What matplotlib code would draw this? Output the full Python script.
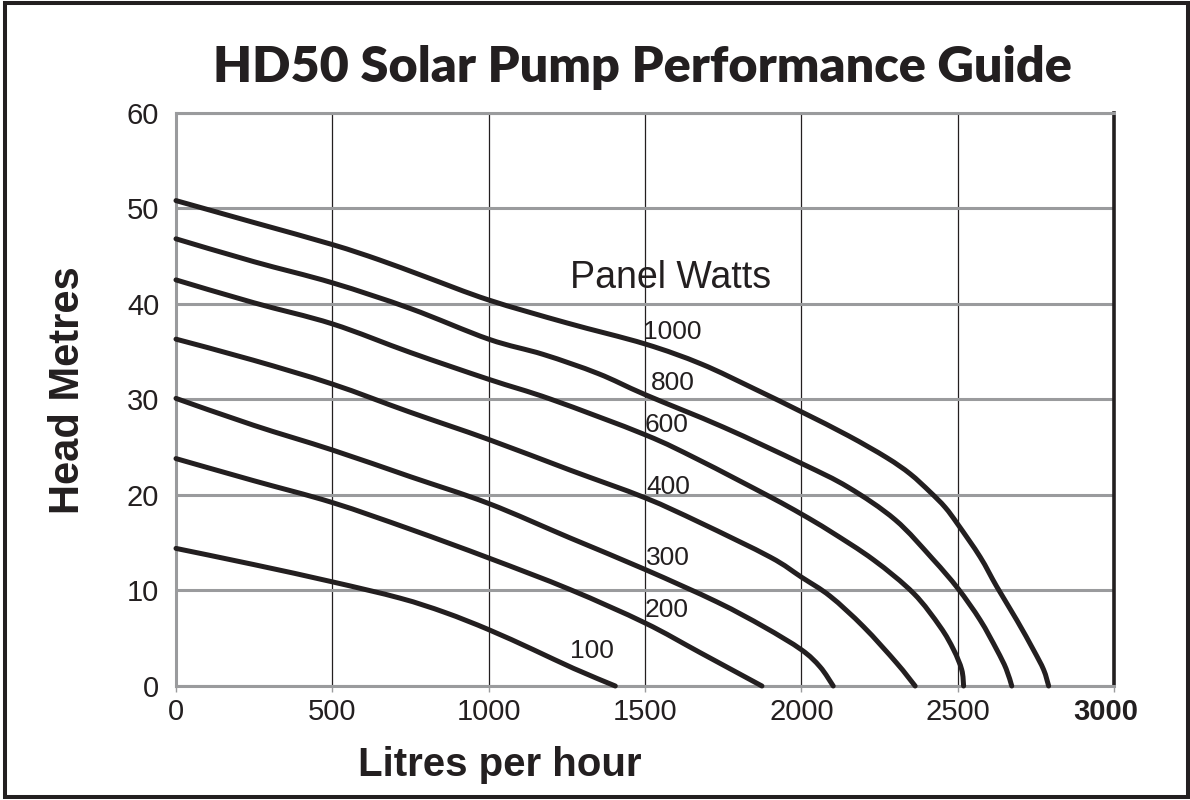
import matplotlib
matplotlib.use('Agg')
import matplotlib.pyplot as plt
from matplotlib.patches import Rectangle, PathPatch
from matplotlib.path import Path
import matplotlib.transforms as mtransforms

# ---- data (Litres per hour vs Head metres) ----
flow_1000 = [0, 250, 500, 650, 800, 1000, 1250, 1500, 1680, 1850, 2000, 2150, 2273, 2348, 2412, 2460, 2501, 2572, 2625, 2689, 2742, 2775, 2791]
head_1000 = [50.8, 48.5, 46.2, 44.6, 42.8, 40.4, 38.0, 35.8, 33.7, 31.1, 28.7, 26.2, 23.9, 22.2, 20.3, 18.7, 16.9, 13.5, 10.4, 6.9, 3.8, 1.7, 0]

flow_800 = [0, 250, 500, 750, 1000, 1175, 1350, 1500, 1750, 2000, 2150, 2300, 2420, 2501, 2572, 2625, 2655, 2673]
head_800 = [46.8, 44.4, 42.2, 39.5, 36.3, 34.7, 32.7, 30.5, 27.1, 23.3, 20.8, 17.4, 13.3, 10.2, 6.9, 3.8, 1.8, 0]

flow_600 = [0, 250, 500, 750, 1000, 1200, 1500, 1670, 1900, 2000, 2092, 2231, 2359, 2444, 2487, 2513, 2519]
head_600 = [42.5, 40.1, 37.9, 34.9, 32.1, 30.0, 26.3, 23.7, 19.8, 18.0, 16.2, 13.2, 9.7, 6.2, 3.8, 1.7, 0]

flow_400 = [0, 247, 500, 745, 1000, 1260, 1500, 1676, 1900, 2000, 2092, 2199, 2305, 2364]
head_400 = [36.3, 34.1, 31.6, 28.7, 25.8, 22.6, 19.7, 17.1, 13.5, 11.4, 9.4, 6.2, 2.4, 0]

flow_300 = [0, 247, 500, 750, 1000, 1260, 1500, 1730, 1880, 2000, 2060, 2102]
head_300 = [30.1, 27.3, 24.7, 21.9, 19.1, 15.5, 12.2, 8.8, 6.2, 3.8, 2.0, 0]

flow_200 = [0, 247, 500, 750, 1000, 1260, 1500, 1676, 1874]
head_200 = [23.8, 21.5, 19.2, 16.4, 13.4, 10.1, 6.6, 3.5, 0]

flow_100 = [0, 250, 500, 716, 860, 1000, 1143, 1271, 1405]
head_100 = [14.4, 12.7, 10.9, 9.2, 7.7, 5.9, 3.8, 1.85, 0]

panel_labels = ['1000', '800', '600', '400', '300', '200', '100']
label_x = [1494, 1520, 1500, 1503, 1503, 1500, 1260]
label_y = [37.0, 31.7, 27.3, 20.8, 13.4, 8.0, 3.7]

x_ticks = [0, 500, 1000, 1500, 2000, 2500, 3000]
y_ticks = [0, 10, 20, 30, 40, 50, 60]

title_text = 'HD50 Solar Pump Performance Guide'
x_label_text = 'Litres per hour'
y_label_text = 'Head Metres'
legend_title = 'Panel Watts'

# ---- drawing ----
INK = '#231f20'
GRAY = '#9a9b9d'
SANS = ['Liberation Sans', 'DejaVu Sans']

plt.rcParams['font.family'] = SANS


def smooth_path(xs, ys):
    """Cubic Bezier path passing through every read point (Catmull-Rom tangents)."""
    pts = list(zip(xs, ys))
    n = len(pts)
    verts = [pts[0]]
    codes = [Path.MOVETO]
    for i in range(n - 1):
        p0 = pts[i - 1] if i > 0 else pts[i]
        p1 = pts[i]
        p2 = pts[i + 1]
        p3 = pts[i + 2] if i + 2 < n else pts[i + 1]
        c1 = (p1[0] + (p2[0] - p0[0]) / 6.0, p1[1] + (p2[1] - p0[1]) / 6.0)
        c2 = (p2[0] - (p3[0] - p1[0]) / 6.0, p2[1] - (p3[1] - p1[1]) / 6.0)
        verts += [c1, c2, p2]
        codes += [Path.CURVE4] * 3
    return Path(verts, codes)


fig = plt.figure(figsize=(11.9, 8), dpi=100)
ax = fig.add_axes([176 / 1190, 1 - 686 / 800, (1114 - 176) / 1190, (686 - 112.7) / 800])
ax.set_xlim(0, 3000)
ax.set_ylim(0, 60)

ax.set_xticks(x_ticks)
ax.set_yticks(y_ticks)
ax.set_xticklabels([str(v) for v in x_ticks])
ax.set_yticklabels([str(v) for v in y_ticks])

ax.set_axisbelow(True)
ax.xaxis.grid(True, color=INK, lw=0.9)
ax.yaxis.grid(True, color=GRAY, lw=2.2)

for side in ['left', 'bottom', 'top']:
    ax.spines[side].set_color(GRAY)
    ax.spines[side].set_linewidth(2.2)
ax.spines['right'].set_color(INK)
ax.spines['right'].set_linewidth(2.6)

ax.tick_params(axis='x', direction='out', length=4, width=1, color=GRAY,
               labelsize=21, pad=5, labelcolor=INK)
ax.tick_params(axis='y', length=0, labelsize=21, pad=12, labelcolor=INK)

xlabels = ax.get_xticklabels()
xlabels[-1].set_fontweight('bold')
xlabels[-1].set_transform(xlabels[-1].get_transform() +
                          mtransforms.ScaledTranslation(-8 / 100, 0, fig.dpi_scale_trans))

series = [(flow_1000, head_1000), (flow_800, head_800), (flow_600, head_600),
          (flow_400, head_400), (flow_300, head_300), (flow_200, head_200),
          (flow_100, head_100)]
for (fx, hy) in series:
    patch = PathPatch(smooth_path(fx, hy), transform=ax.transData, fill=False,
                      ec=INK, lw=3.6, capstyle='round', joinstyle='round',
                      clip_on=False, zorder=3)
    ax.add_patch(patch)

for lab, lx, ly in zip(panel_labels, label_x, label_y):
    ax.text(lx, ly, lab, fontsize=19, color=INK, ha='left', va='center', zorder=4)

ax.text(1260, 42.7, legend_title, fontsize=27, color=INK, ha='left', va='center')

fig.text(642.5 / 1190, 1 - 82 / 800, title_text, ha='center', va='baseline',
         fontsize=36.3, fontweight='heavy', family=['Lato', 'DejaVu Sans'], color=INK)
fig.text(500 / 1190, 1 - 776 / 800, x_label_text, ha='center', va='baseline',
         fontsize=29, fontweight='bold', color=INK)
fig.text(68 / 1190, 1 - 390 / 800, y_label_text, ha='center', va='center',
         rotation=90, fontsize=30, fontweight='bold', color=INK)

fig.patches.append(Rectangle((5 / 1190, 3 / 800), (1188 - 5) / 1190, (797 - 3) / 800,
                             transform=fig.transFigure, fill=False, lw=2.9, ec=INK))

fig.savefig('out.png', dpi=100)
